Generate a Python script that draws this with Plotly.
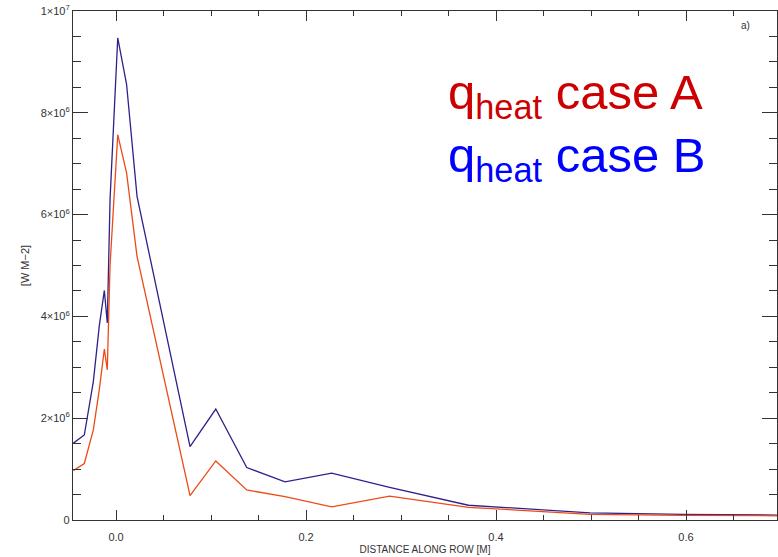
import plotly.graph_objects as go

# Data
x_b = [-0.0449, -0.0334, -0.0239, -0.0176, -0.0123, -0.0092, -0.0063, 0.0018, 0.0111, 0.0221,
       0.0779, 0.105, 0.1376, 0.1779, 0.227, 0.288, 0.371, 0.499, 0.597, 0.692, 0.75]
y_b = [1.51e6, 1.67e6, 2.72e6, 3.82e6, 4.51e6, 3.87e6, 6.3e6, 9.47e6, 8.56e6, 6.36e6,
       1.44e6, 2.18e6, 1.03e6, 0.75e6, 0.92e6, 0.64e6, 0.29e6, 0.14e6, 0.11e6, 0.098e6, 0.09e6]

x_a = [-0.0449, -0.0334, -0.0239, -0.0176, -0.0123, -0.0092, -0.0063, 0.0018, 0.0111, 0.0221,
       0.0779, 0.105, 0.1376, 0.1779, 0.227, 0.288, 0.371, 0.499, 0.597, 0.692, 0.75]
y_a = [0.97e6, 1.11e6, 1.77e6, 2.56e6, 3.36e6, 2.95e6, 5.0e6, 7.57e6, 6.82e6, 5.18e6,
       0.48e6, 1.16e6, 0.59e6, 0.46e6, 0.26e6, 0.47e6, 0.25e6, 0.11e6, 0.09e6, 0.085e6, 0.08e6]

y_tickvals = [0, 2e6, 4e6, 6e6, 8e6, 1e7]
y_ticktext = ["0", "2×10<sup>6</sup>", "4×10<sup>6</sup>", "6×10<sup>6</sup>",
              "8×10<sup>6</sup>", "1×10<sup>7</sup>"]
x_tickvals = [0.0, 0.2, 0.4, 0.6]
x_ticktext = ["0.0", "0.2", "0.4", "0.6"]

AX = "#333333"
FONT = "Liberation Sans, Arial, sans-serif"

fig = go.Figure()
fig.add_trace(go.Scatter(x=x_b, y=y_b, mode="lines",
                         line=dict(color="#30208a", width=1.3), showlegend=False))
fig.add_trace(go.Scatter(x=x_a, y=y_a, mode="lines",
                         line=dict(color="#ee4a18", width=1.3), showlegend=False))

fig.update_layout(
    width=778, height=557,
    margin=dict(l=73, r=1, t=11, b=37),
    paper_bgcolor="white", plot_bgcolor="white",
    font=dict(family=FONT, color=AX, size=11),
    xaxis=dict(
        range=[-0.0453, 0.6958], showgrid=False, zeroline=False,
        showline=True, linecolor=AX, linewidth=1.2, mirror="ticks",
        ticks="inside", ticklen=10, tickcolor=AX, tickwidth=1,
        tickvals=x_tickvals, ticktext=x_ticktext,
        minor=dict(ticks="inside", ticklen=5, dtick=0.05, tick0=0, tickcolor=AX, showgrid=False),
        tickfont=dict(size=11, color=AX), ticklabelstandoff=7,
        title=dict(text="DISTANCE ALONG ROW [M]", font=dict(size=10, color=AX), standoff=3),
    ),
    yaxis=dict(
        range=[0, 1e7], showgrid=False, zeroline=False,
        showline=True, linecolor=AX, linewidth=1.2, mirror="ticks",
        ticks="inside", ticklen=15, tickcolor=AX, tickwidth=1,
        tickvals=y_tickvals, ticktext=y_ticktext,
        minor=dict(ticks="inside", ticklen=8, dtick=5e5, tick0=0, tickcolor=AX, showgrid=False),
        tickfont=dict(size=11, color=AX),
        title=dict(text="[W M−2]", font=dict(size=11, color=AX), standoff=8),
    ),
)

fig.add_annotation(xref="paper", yref="paper", x=(446 - 73) / 704, y=(520 - 96) / 509,
                   xanchor="left", yanchor="middle", showarrow=False,
                   text="q<sub>heat</sub> case A",
                   font=dict(family=FONT, size=49, color="#cc0000"))
fig.add_annotation(xref="paper", yref="paper", x=(446 - 73) / 704, y=(520 - 158) / 509,
                   xanchor="left", yanchor="middle", showarrow=False,
                   text="q<sub>heat</sub> case B",
                   font=dict(family=FONT, size=49, color="#0000ff"))
fig.add_annotation(xref="paper", yref="paper", x=(739 - 73) / 704, y=(520 - 25) / 509,
                   xanchor="left", yanchor="middle", showarrow=False,
                   text="a)", font=dict(family=FONT, size=10, color=AX))

fig.write_html("out.html")
